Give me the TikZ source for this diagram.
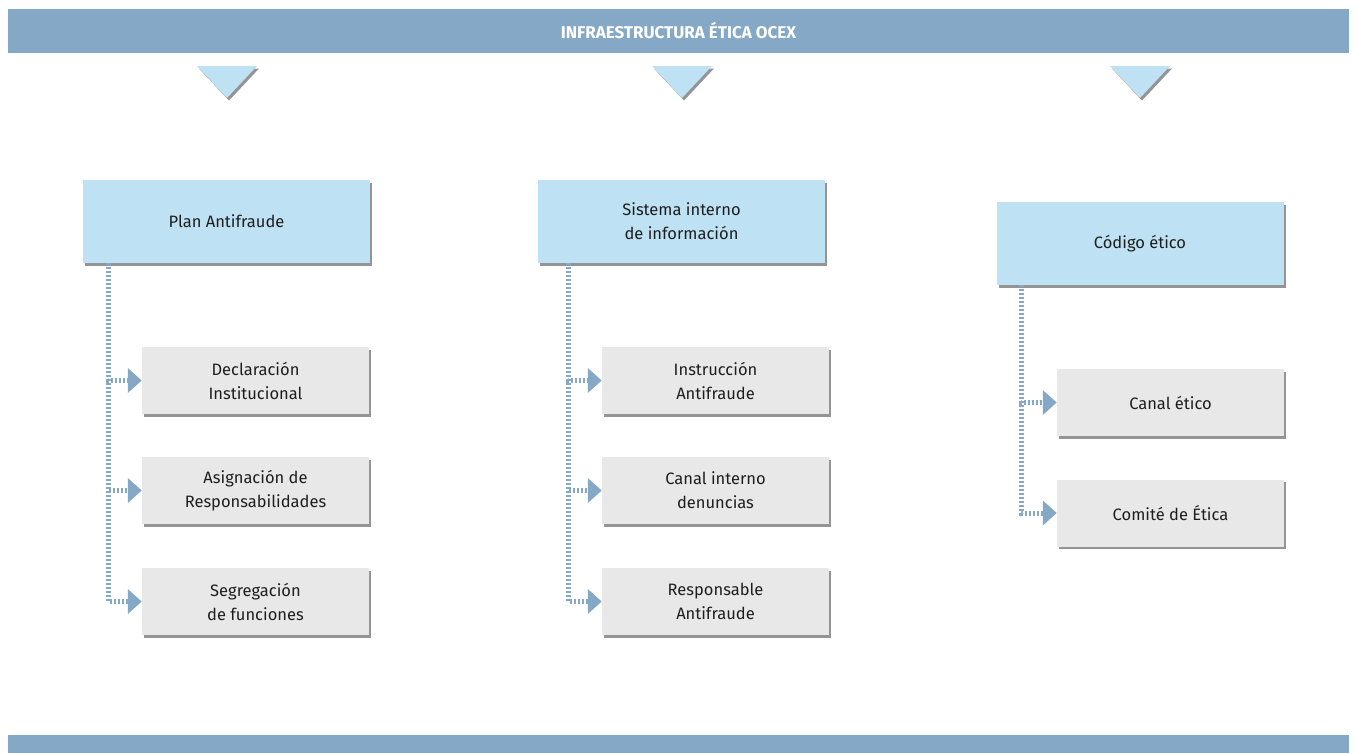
\documentclass[tikz,border=0pt]{standalone}
\usepackage{fontspec}
\setmainfont{Fira Sans}
\usetikzlibrary{shadows,arrows.meta}
\definecolor{ocexblue}{HTML}{85A8C6}
\definecolor{headblue}{HTML}{BEE1F4}
\definecolor{itemgray}{HTML}{E8E8E8}
\definecolor{dotblue}{HTML}{86A8C8}
\definecolor{inktext}{HTML}{1E1E1E}

\begin{document}
\begin{tikzpicture}[x=1pt,y=1pt,font=\fontsize{16.5}{24}\selectfont,text=inktext]
	\tikzstyle{banner}=[rectangle,fill=ocexblue,draw=none,inner sep=0pt]
	\tikzstyle{parent}=[rectangle,fill=headblue,minimum width=287pt,minimum height=83pt,align=center,inner sep=2pt,
		drop shadow={shadow xshift=2pt,shadow yshift=-2.5pt,fill=black!70,opacity=0.6}]
	\tikzstyle{item}=[rectangle,fill=itemgray,minimum width=227pt,minimum height=67pt,align=center,inner sep=2pt,
		drop shadow={shadow xshift=2pt,shadow yshift=-2.5pt,fill=black!70,opacity=0.6}]
	\tikzstyle{marker}=[fill=headblue,drop shadow={shadow xshift=2pt,shadow yshift=-2.5pt,fill=black!70,opacity=0.6}]
	\tikzstyle{edge}=[draw=dotblue,line width=5pt,dash pattern=on 2pt off 2pt,
		-{Triangle[length=14pt,width=24pt,color=ocexblue]}]

	\useasboundingbox (0,0) rectangle (1356,-753);

	% banners
	\node [banner,minimum width=1341pt,minimum height=44pt,text=white,font=\bfseries\fontsize{17}{20}\selectfont] (top) at (678.5,-31) {INFRAESTRUCTURA ÉTICA OCEX};
	\fill [ocexblue] (8,-735) rectangle (1349,-753);

	% markers
	\foreach \x in {227,682,1140}
		\path [marker] (\x-30,-66) -- (\x+30,-66) -- (\x,-98) -- cycle;

	\begin{scope}
		\node [parent] (p1) at (226.5,-221.5) {Plan Antifraude};
		\node [parent] (p2) at (681.5,-221.5) {Sistema interno\\de información};
		\node [parent] (p3) at (1140,-243.5) {Código ético};

		\node [item] (c11) at (255.5,-380.5) {Declaración\\Institucional};
		\node [item] (c12) at (255.5,-490.5) {Asignación de\\Responsabilidades};
		\node [item] (c13) at (255.5,-601.5) {Segregación\\de funciones};

		\node [item] (c21) at (715.5,-380.5) {Instrucción\\Antifraude};
		\node [item] (c22) at (715.5,-490.5) {Canal interno\\denuncias};
		\node [item] (c23) at (715.5,-601.5) {Responsable\\Antifraude};

		\node [item] (c31) at (1170.5,-402.5) {Canal ético};
		\node [item] (c32) at (1170.5,-513) {Comité de Ética};

		\coordinate (t1) at (108,-263);
		\coordinate (t2) at (568,-263);
		\coordinate (t3) at (1021,-285);

		\draw [edge] (t1) |- (c11.west);
		\draw [edge] (t1) |- (c12.west);
		\draw [edge] (t1) |- (c13.west);

		\draw [edge] (t2) |- (c21.west);
		\draw [edge] (t2) |- (c22.west);
		\draw [edge] (t2) |- (c23.west);

		\draw [edge] (t3) |- (c31.west);
		\draw [edge] (t3) |- (c32.west);
	\end{scope}
\end{tikzpicture}
\end{document}
